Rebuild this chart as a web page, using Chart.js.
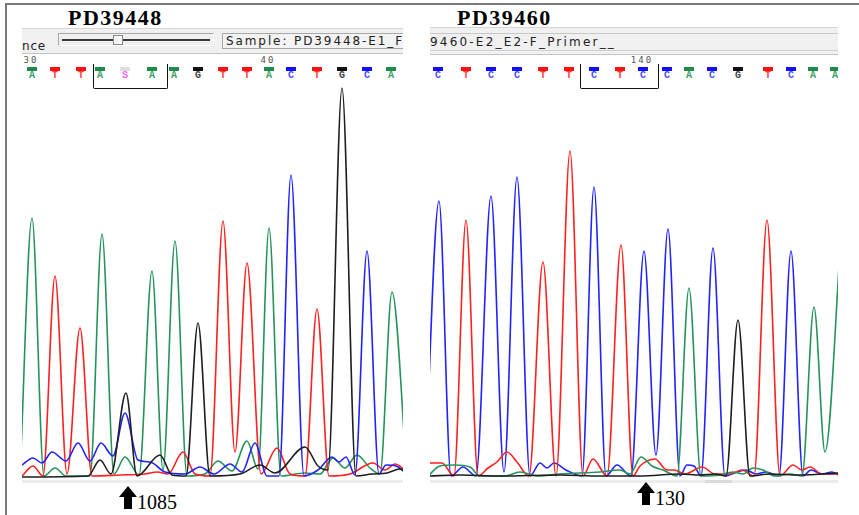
<!DOCTYPE html>
<html>
<head>
<meta charset="utf-8">
<script src="https://cdn.jsdelivr.net/npm/chart.js@4.4.0/dist/chart.umd.min.js"></script>
<style>
  body { margin:0; background:#fff; }
  #page { position:relative; width:859px; height:515px; overflow:hidden; font-family:"DejaVu Sans",sans-serif; }
  .abs { position:absolute; }
  .rule-h { left:6px; top:3px; width:853px; height:2px; background:#7a7a7a; }
  .rule-v { left:5px; top:3px; width:2px; height:512px; background:#7a7a7a; }
  .title { font:bold 22px/22px "Liberation Serif",serif; letter-spacing:1.5px; color:#000; }
  .bar { background:#f0f0f0; overflow:hidden; border-top:1px solid #d6d6d6; border-bottom:1px solid #c4c4c4; box-sizing:border-box; }
  .bar-txt { font-size:12px; line-height:13px; letter-spacing:1.9px; color:#222; white-space:nowrap; }
  .calls { overflow:hidden; }
  .call-box { position:absolute; top:12px; width:10px; height:4px; }
  .call-txt { position:absolute; top:15px; width:14px; text-align:center; font:bold 10px/12px "Liberation Mono",monospace; }
  .ruler { position:absolute; top:0px; width:40px; text-align:center; font:9px/10px "DejaVu Sans Mono",monospace; letter-spacing:2px; color:#555; }
  .bracket { position:absolute; top:9px; height:25px; border:1px solid #111; border-top:none; border-radius:0 0 2px 2px; box-sizing:border-box; }
  .pos { font:20px/20px "Liberation Serif",serif; color:#000; }
  .floor { height:3px; background:#ececec; }
</style>
</head>
<body>
<div id="page">
  <div class="abs rule-h"></div>
  <div class="abs rule-v"></div>

  <div class="abs title" style="left:68px;top:7px">PD39448</div>
  <div class="abs title" style="left:457px;top:7px">PD39460</div>

  <!-- viewer toolbars -->
  <div class="abs bar" style="left:22px;top:28px;width:381px;height:26px">
    <div class="abs bar-txt" style="left:0;top:11px;letter-spacing:0.8px">nce</div>
    <div class="abs" style="left:36px;top:4px;width:156px;height:13px;border:1px solid #a8a8a8;border-right-color:#fff;border-bottom-color:#fff;box-sizing:border-box"></div>
    <div class="abs" style="left:40px;top:10px;width:148px;height:2px;background:#3a3a3a"></div>
    <div class="abs" style="left:91px;top:6px;width:10px;height:10px;background:#f6f6f6;border:1px solid #8a8a8a;box-sizing:border-box"></div>
    <div class="abs" style="left:200px;top:4px;width:200px;height:16px;border:1px solid #a8a8a8;background:#f3f3f3;box-sizing:border-box;overflow:hidden">
      <div class="abs bar-txt" style="left:3px;top:1px">Sample: PD39448-E1_F_Primer__</div>
    </div>
  </div>
  <div class="abs bar" style="left:430px;top:27px;width:408px;height:28px">
    <div class="abs" style="left:0;top:5px;width:408px;height:1px;background:#c8c8c8"></div>
    <div class="abs" style="left:0;top:22px;width:408px;height:1px;background:#d0d0d0"></div>
    <div class="abs bar-txt" style="left:0;top:8px;letter-spacing:2.2px">9460-E2_E2-F_Primer__</div>
  </div>

  <div id="callsLeft" class="abs calls" style="left:22px;top:55px;width:381px;height:36px"></div>
  <div id="callsRight" class="abs calls" style="left:430px;top:55px;width:408px;height:36px"></div>

  <div class="abs floor" style="left:22px;top:480px;width:381px"></div>
  <div class="abs floor" style="left:430px;top:480px;width:408px"></div>
  <div class="abs floor" style="left:705px;top:480px;width:27px;background:#dadada"></div>

  <canvas id="traceLeft" class="abs" style="left:22px;top:84px" width="381" height="396"></canvas>
  <canvas id="traceRight" class="abs" style="left:430px;top:84px" width="408" height="396"></canvas>
</div>

<script>
// ── Trace data: [scan, signal] knots per channel ──────────────────────────

const leftScans  = 381;
const rightScans = 408;

// PD39448
const leftA = [[-2,2],[10,260],[22,2],[33,10],[44,2],[68,2],[80,244],[92,4],[103,21],[117,3],[130,207],[141,8],[153,237],[165,2],[183,4],[196,17],[210,7],[225,37],[236,9],[247,250],[259,2],[283,5],[298,4],[311,20],[323,10],[335,23],[348,10],[358,4],[370,186],[385,2]];
const leftC = [[0,13],[11,20],[20,15],[30,26],[44,17],[56,35],[68,17],[79,35],[91,22],[103,65],[116,18],[128,16],[143,6],[163,4],[178,11],[192,4],[208,14],[220,6],[233,35],[245,2],[257,2],[269,303],[282,2],[296,8],[310,21],[317,16],[324,21],[333,3],[345,227],[357,4],[364,13],[374,12],[383,6]];
const leftG = [[0,1],[66,2],[78,18],[89,4],[104,85],[115,2],[138,23],[150,3],[164,2],[176,155],[188,2],[218,4],[238,13],[253,5],[283,31],[296,12],[306,8],[320,390],[334,2],[350,4],[365,5],[378,9],[383,6]];
const leftT = [[0,2],[11,12],[21,2],[33,202],[45,4],[58,150],[70,2],[98,3],[123,4],[135,6],[146,4],[161,26],[173,4],[188,2],[201,257],[213,26],[225,215],[239,4],[255,30],[268,4],[283,2],[295,169],[307,2],[328,4],[351,15],[363,8],[373,14],[383,8]];

// PD39460
const rightA = [[-2,2],[10,12],[25,13],[40,11],[50,2],[75,2],[90,6],[108,2],[130,4],[170,6],[190,8],[200,4],[211,21],[222,12],[233,8],[247,2],[259,190],[271,2],[290,3],[303,6],[313,4],[323,10],[333,8],[345,2],[360,4],[372,2],[384,171],[395,26],[411,242]];
const rightC = [[-5,2],[9,277],[21,2],[33,11],[46,2],[61,282],[74,6],[87,301],[100,2],[110,15],[117,10],[124,15],[136,8],[152,2],[164,291],[176,2],[187,13],[201,2],[214,227],[226,23],[238,249],[250,2],[257,13],[264,12],[271,2],[283,230],[295,2],[307,6],[316,8],[326,4],[336,6],[349,2],[361,227],[373,2],[381,8],[392,4],[402,6],[410,2]];
const rightG = [[-2,2],[30,3],[70,2],[130,3],[170,2],[210,2],[250,4],[270,3],[285,4],[296,2],[308,158],[320,2],[340,4],[370,3],[410,5]];
const rightT = [[0,15],[12,15],[24,2],[36,258],[48,2],[58,10],[67,16],[77,26],[87,16],[99,2],[113,216],[126,2],[140,327],[153,2],[163,19],[177,2],[191,233],[203,2],[210,12],[225,19],[237,8],[244,8],[255,4],[272,11],[285,4],[300,4],[312,8],[324,2],[337,258],[350,2],[363,13],[372,8],[380,11],[392,4],[410,4]];

// ── Base calls ────────────────────────────────────────────────────────────

const leftBases    = ['A','T','T','A','S','A','A','G','T','T','A','C','T','G','C','A'];
const leftCallPos  = [10,33,59,78,103,130,152,176,201,225,247,269,295,320,345,369];
const leftRuler    = [[0,'30'],[10,'40']];      // [call index, base number]
const leftBracket  = [71,145];                   // scan range
const leftMarked   = 4;
const leftMarkText = '1085';

const rightBases    = ['C','T','C','C','T','T','C','T','C','C','A','C','G','T','C','A','A'];
const rightCallPos  = [8,36,61,87,113,139,164,190,213,237,259,282,308,338,361,383,405];
const rightRuler    = [[8,'140']];
const rightBracket  = [150,228];
const rightMarked   = 8;
const rightMarkText = '130';

const TRACE_COL = { A:'#25945a', C:'#2222ff', G:'#1e1e1e', T:'#ff2020' };
const CALL_COL  = { A:'#3aa066', C:'#4a4aff', G:'#444', T:'#ff3a3a', S:'#ff5cff' };
const BOX_COL   = { A:'#1e8a4c', C:'#1010ff', G:'#111', T:'#ff1010', S:'#dedede' };

function makeTrace(canvasId, maxScan, channels) {
  return new Chart(document.getElementById(canvasId), {
    type: 'line',
    data: {
      datasets: channels.map(([base, pts]) => ({
        label: base,
        data: pts.map(([x, y]) => ({ x, y })),
        borderColor: TRACE_COL[base],
        borderWidth: 1.6,
        pointRadius: 0,
        fill: false,
        cubicInterpolationMode: 'monotone',
      })),
    },
    options: {
      responsive: false, animation: false, events: [],
      layout: { padding: 0 },
      plugins: { legend: { display:false }, tooltip: { enabled:false } },
      scales: {
        x: { type:'linear', min:0, max:maxScan, display:false },
        y: { min:-2, max:394, display:false },
      },
    },
  });
}

function el(cls, css, text) {
  const d = document.createElement('div');
  d.className = cls;
  Object.assign(d.style, css);
  if (text != null) d.textContent = text;
  return d;
}

// calls row, ruler, bracket and the position marker below the trace
function decorate(chart, canvasId, boxId, bases, pos, ruler, bracket, marked, markText, arrowTop) {
  const sx = v => chart.scales.x.getPixelForValue(v);
  const box = document.getElementById(boxId);
  const left = document.getElementById(canvasId).offsetLeft;

  bases.forEach((b, i) => {
    const px = sx(pos[i]);
    box.appendChild(el('call-box', { left:(px-5)+'px', background:BOX_COL[b] }));
    box.appendChild(el('call-txt', { left:(px-7)+'px', color:CALL_COL[b] }, b));
  });
  ruler.forEach(([i, n]) => box.appendChild(el('ruler', { left:(sx(pos[i])-21)+'px' }, n)));

  const b0 = sx(bracket[0]), b1 = sx(bracket[1]);
  box.appendChild(el('bracket', { left:b0+'px', width:(b1-b0+1)+'px' }));

  const cx = left + sx(pos[marked]) + 3;
  const svg = document.createElementNS('http://www.w3.org/2000/svg', 'svg');
  svg.setAttribute('width', 18); svg.setAttribute('height', 23);
  svg.setAttribute('class', 'abs');
  svg.style.left = (cx-9)+'px'; svg.style.top = arrowTop+'px';
  svg.innerHTML = '<polygon points="9,0 18,11 13,11 13,23 5,23 5,11 0,11" fill="#000"/>';
  document.getElementById('page').appendChild(svg);
  document.getElementById('page').appendChild(
    el('abs pos', { left:(cx+9)+'px', top:(arrowTop+6)+'px' }, markText));
}

const leftChart = makeTrace('traceLeft', leftScans,
  [['G', leftG], ['C', leftC], ['T', leftT], ['A', leftA]]);
const rightChart = makeTrace('traceRight', rightScans,
  [['G', rightG], ['A', rightA], ['T', rightT], ['C', rightC]]);

decorate(leftChart, 'traceLeft', 'callsLeft', leftBases, leftCallPos,
  leftRuler, leftBracket, leftMarked, leftMarkText, 486);
decorate(rightChart, 'traceRight', 'callsRight', rightBases, rightCallPos,
  rightRuler, rightBracket, rightMarked, rightMarkText, 482);
</script>
</body>
</html>
